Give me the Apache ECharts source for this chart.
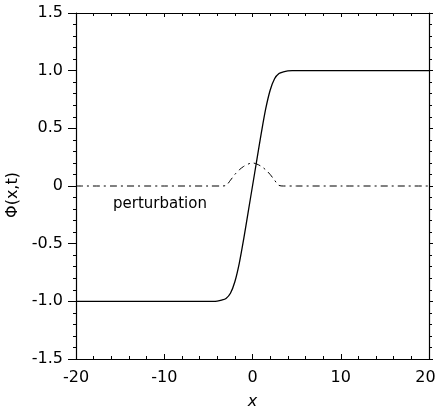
<!DOCTYPE html>
<html><head><meta charset="utf-8">
<script src="https://cdn.jsdelivr.net/npm/echarts@6/dist/echarts.min.js"></script>
<style>html,body{margin:0;padding:0;background:#fff}#c{width:436px;height:408px}</style>
</head><body><div id="c"></div>
<script>
// kink profile phi(x,t)
const kinkX = [-20,-10,-6,-4.5,-4,-3.5,-3,-2.5,-2,-1.5,-1,-0.5,0,0.5,1,1.5,2,2.5,3,3.5,4,4.5,6,10,20];
const kinkY = [-1.0,-1.0,-1.0,-1.0,-0.998,-0.99,-0.975,-0.93,-0.83,-0.67,-0.46,-0.23,0,0.23,0.46,0.67,0.83,0.93,0.975,0.99,0.998,1.0,1.0,1.0,1.0];
// perturbation
const pertX = [-20,-10,-5,-3.5,-3,-2.5,-2,-1.5,-1,-0.5,0,0.5,1,1.5,2,2.5,3,3.5,5,10,20];
const pertY = [0,0,0,0,0.005,0.05,0.10,0.14,0.17,0.19,0.2,0.19,0.17,0.14,0.10,0.05,0.005,0,0,0,0];
const xTicks = [-20,-10,0,10,20];
const yTicks = [-1.5,-1.0,-0.5,0,0.5,1.0,1.5];

const font = 'DejaVu Sans';
const chart = echarts.init(document.getElementById('c'));
const lineAx = {show:true, onZero:false, lineStyle:{color:'#000', width:1.2}};
chart.setOption({
  animation:false,
  grid:{left:76, right:7, top:13, bottom:49, containLabel:false, outerBoundsMode:'none'},
  xAxis:[{
    type:'value', min:-20, max:20, interval:10,
    axisLine:lineAx, splitLine:{show:false},
    axisTick:{show:true, inside:true, length:5, lineStyle:{color:'#000'}},
    minorTick:{show:true, splitNumber:5, length:3, lineStyle:{color:'#000'}},
    axisLabel:{color:'#000', fontFamily:font, fontSize:16, margin:11,
      formatter:v=>!xTicks.includes(v)?'':(v===xTicks[xTicks.length-1]?'{r|'+v+'}':String(v)),
      rich:{r:{color:'#000', fontFamily:font, fontSize:16, padding:[0,7,0,0]}}},
    name:'x', nameLocation:'middle', nameGap:35,
    nameTextStyle:{color:'#000', fontFamily:font, fontSize:16, fontStyle:'italic'}
  },{
    type:'value', position:'top', min:-20, max:20, interval:10,
    axisLine:lineAx, splitLine:{show:false},
    axisTick:{show:true, inside:true, length:4, lineStyle:{color:'#000'}},
    minorTick:{show:true, splitNumber:5, length:3, lineStyle:{color:'#000'}},
    axisLabel:{show:false}
  }],
  yAxis:[{
    type:'value', min:-1.5, max:1.5, interval:0.5,
    axisLine:lineAx, splitLine:{show:false},
    axisTick:{show:true, length:8, lineStyle:{color:'#000'}},
    minorTick:{show:true, splitNumber:5, length:3, lineStyle:{color:'#000'}},
    axisLabel:{color:'#000', fontFamily:font, fontSize:16, margin:13,
      formatter:v=>Math.abs(v)<1e-9?'0':v.toFixed(1)},
    name:'Φ(x,t)', nameLocation:'middle', nameGap:54, nameRotate:90,
    nameTextStyle:{color:'#000', fontFamily:font, fontSize:16, padding:[0,18,0,0]}
  },{
    type:'value', position:'right', min:-1.5, max:1.5, interval:0.5,
    axisLine:lineAx, splitLine:{show:false},
    axisTick:{show:true, length:4, lineStyle:{color:'#000'}},
    minorTick:{show:true, splitNumber:5, length:3, lineStyle:{color:'#000'}},
    axisLabel:{show:false}
  }],
  series:[{
    type:'line', showSymbol:false, smooth:0.3,
    data:kinkX.map((x,i)=>[x,kinkY[i]]),
    lineStyle:{color:'#000', width:1.3}
  },{
    type:'line', showSymbol:false, smooth:0.3,
    data:pertX.map((x,i)=>[x,pertY[i]]),
    lineStyle:{color:'#000', width:1, type:[7,4,2,4]}
  }],
  graphic:[{type:'text', left:113, top:197,
    style:{text:'perturbation', fill:'#000', font:'15px "DejaVu Sans"'}}]
});
</script></body></html>
